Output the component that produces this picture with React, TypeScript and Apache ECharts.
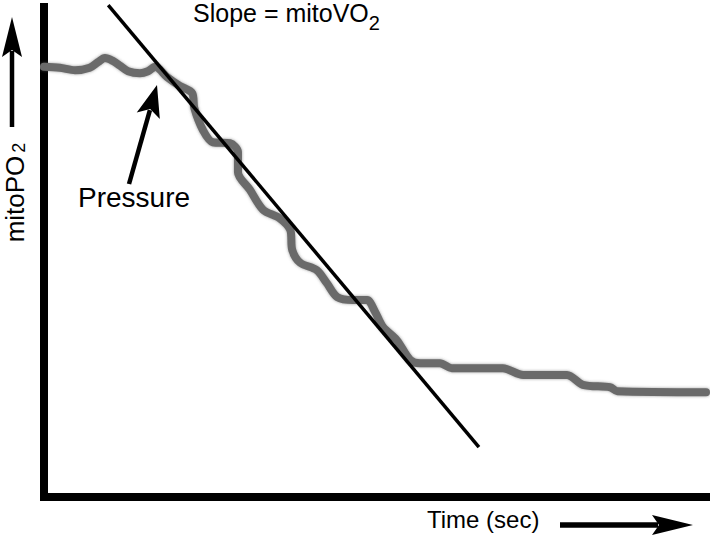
import React, { useEffect, useRef } from "react";
import * as echarts from "echarts";

const timeSec = [0, 2.4, 4.7, 6.9, 8.2, 9.2, 10.4, 11.5, 12.7, 14.5, 15.7, 16.8, 18.6, 20.5, 22.4, 22.7, 24.0, 25.5, 28.1, 29.3, 29.3, 31.1, 33.1, 35.6, 37.2, 37.5, 38.7, 41.2, 42.7, 44.3, 46.7, 48.8, 50.0, 51.2, 53.3, 55.3, 56.8, 59.8, 61.6, 69.3, 72.4, 79.0, 81.4, 85.5, 86.6, 100];
const mitoPO2 = [87.8, 87.6, 87.1, 87.6, 88.8, 89.6, 89.0, 88.0, 86.9, 86.5, 86.9, 87.8, 85.7, 83.9, 82.4, 79.4, 74.9, 72.4, 72.2, 70.4, 66.3, 62.7, 58.6, 56.9, 54.5, 50.4, 47.8, 46.3, 43.7, 40.8, 40.2, 40.2, 37.8, 34.7, 32.0, 28.0, 27.3, 27.3, 26.3, 26.3, 24.9, 24.9, 22.9, 22.4, 21.6, 21.4];

// Slope fit line end points
const fitTime = [9.7, 65.7];
const fitPO2 = [100.4, 10.2];

const slopeLabel = "Slope = mitoVO";
const yLabel = "mitoPO";
const xLabel = "Time (sec)";
const traceLabel = "Pressure";

const FONT = "'Liberation Sans', Arial, sans-serif";

function arrow(tail: number[], tip: number[], headL: number, headW: number, notch: number, shaftW: number) {
  const dx = tip[0] - tail[0];
  const dy = tip[1] - tail[1];
  const len = Math.sqrt(dx * dx + dy * dy);
  const ux = dx / len, uy = dy / len;
  const px = -uy, py = ux;
  const base = [tip[0] - ux * headL, tip[1] - uy * headL];
  const nb = [tip[0] - ux * (headL - notch), tip[1] - uy * (headL - notch)];
  return {
    type: "group",
    children: [
      {
        type: "line",
        shape: { x1: tail[0], y1: tail[1], x2: nb[0] - ux * 1, y2: nb[1] - uy * 1 },
        style: { stroke: "#000", lineWidth: shaftW },
      },
      {
        type: "polygon",
        shape: {
          points: [
            tip,
            [base[0] + px * headW / 2, base[1] + py * headW / 2],
            nb,
            [base[0] - px * headW / 2, base[1] - py * headW / 2],
          ],
        },
        style: { fill: "#000" },
      },
    ],
  };
}

export default function App() {
  const ref = useRef<HTMLDivElement>(null);
  useEffect(() => {
    if (!ref.current) return;
    const chart = echarts.init(ref.current, null, { renderer: "svg" });
    const trace = timeSec.map((t, i) => [t, mitoPO2[i]]);
    const fit = fitTime.map((t, i) => [t, fitPO2[i]]);
    const axisCommon = {
      type: "value",
      min: 0,
      max: 100,
      axisLine: { show: true, lineStyle: { color: "#000", width: 8, cap: "square" } },
      axisTick: { show: false },
      axisLabel: { show: false },
      splitLine: { show: false },
    };
    chart.setOption({
      animation: false,
      backgroundColor: "#fff",
      grid: { left: 44, right: 13, top: 7, bottom: 39 },
      xAxis: { ...axisCommon },
      yAxis: { ...axisCommon },
      series: [
        {
          type: "line",
          data: trace,
          showSymbol: false,
          smooth: 0.3,
          z: 2,
          lineStyle: {
            color: "#6a6a6a",
            width: 8,
            cap: "round",
            join: "round",
            shadowBlur: 3,
            shadowColor: "rgba(90,90,90,0.6)",
          },
        },
        {
          type: "line",
          data: fit,
          showSymbol: false,
          clip: false,
          z: 3,
          lineStyle: { color: "#000", width: 3.5 },
        },
      ],
      graphic: [
        {
          type: "text",
          x: 193,
          y: 12.5,
          style: {
            text: "{a|" + slopeLabel + "}{s|2}",
            textAlign: "left",
            textVerticalAlign: "middle",
            rich: {
              a: { fontSize: 25, lineHeight: 25, fontFamily: FONT, fill: "#000" },
              s: { fontSize: 20, lineHeight: 25, fontFamily: FONT, fill: "#000", padding: [20, 0, 0, 0] },
            },
          },
        },
        {
          type: "text",
          x: 14.5,
          y: 192.5,
          rotation: Math.PI / 2,
          style: {
            text: "{a|" + yLabel + "}{s|2}",
            textAlign: "center",
            textVerticalAlign: "middle",
            rich: {
              a: { fontSize: 26, lineHeight: 26, fontFamily: FONT, fill: "#000" },
              s: { fontSize: 18, lineHeight: 26, fontFamily: FONT, fill: "#000", padding: [8, 0, 0, 3] },
            },
          },
        },
        {
          type: "text",
          x: 427,
          y: 519.7,
          style: {
            text: xLabel,
            fontSize: 24,
            fontFamily: FONT,
            fill: "#000",
            textAlign: "left",
            textVerticalAlign: "middle",
          },
        },
        {
          type: "text",
          x: 78,
          y: 197.3,
          style: {
            text: traceLabel,
            fontSize: 28,
            fontFamily: FONT,
            fill: "#000",
            textAlign: "left",
            textVerticalAlign: "middle",
          },
        },
        arrow([12, 127], [12, 17], 40, 20, 7, 4.5),
        arrow([560, 525], [693, 525], 41, 20, 7, 5.5),
        arrow([129, 184], [157, 85], 32, 24, 7, 4.5),
      ],
    });
    return () => chart.dispose();
  }, []);
  return (
    <div
      ref={ref}
      style={{ position: "fixed", left: 0, top: 0, width: 719, height: 536, background: "#fff" }}
    />
  );
}
